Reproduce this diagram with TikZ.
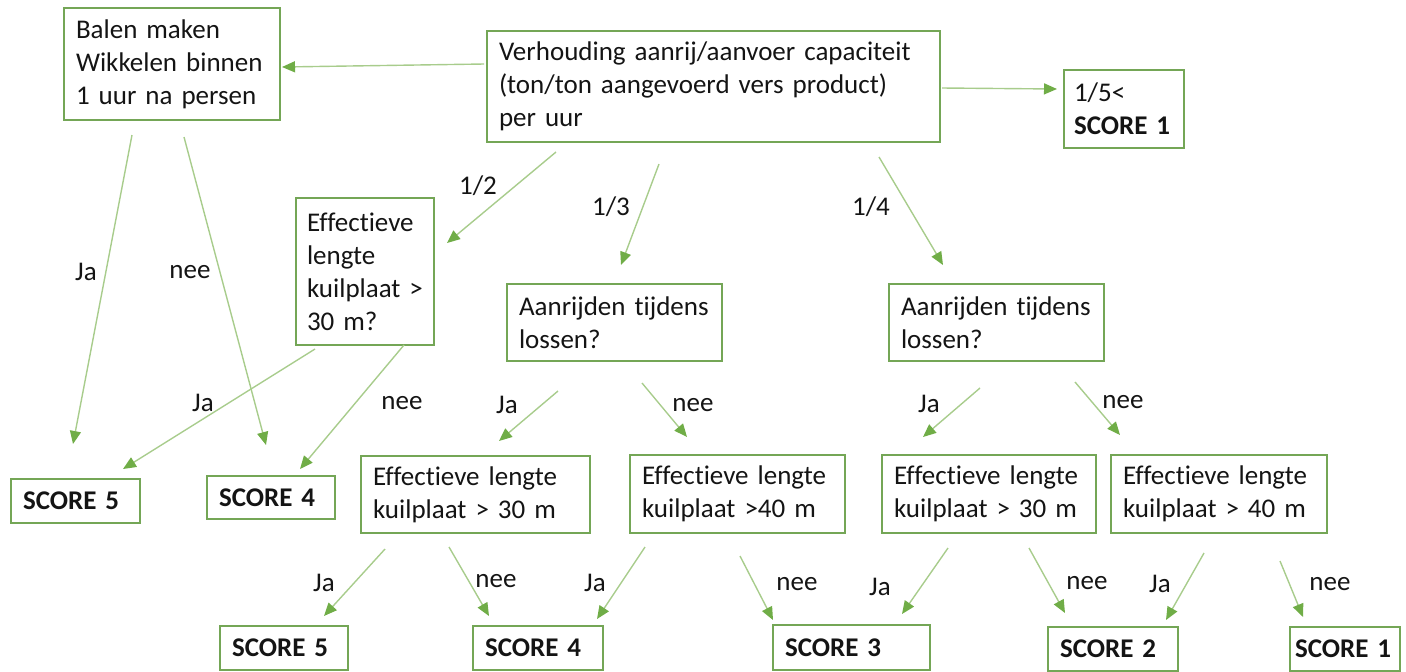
\documentclass[tikz,border=0pt]{standalone}
\usepackage{fontspec}
\setmainfont{Carlito}[Ligatures=NoCommon]
\usetikzlibrary{arrows.meta}
\definecolor{boxgreen}{RGB}{116,166,86}
\definecolor{linegreen}{RGB}{168,204,140}
\definecolor{tipgreen}{RGB}{112,173,71}
\definecolor{txt}{RGB}{20,20,20}
\newcommand{\diafont}{\fontsize{13.5}{16.5}\selectfont}
\tikzset{
  bx/.style 2 args={draw=boxgreen,line width=1pt,rectangle,align=left,
    inner xsep=6pt,inner ysep=0pt,text width=#1,minimum height=#2,anchor=center},
  sc/.style 2 args={bx={#1}{#2},font=\diafont\bfseries},
  arr/.style={draw=linegreen,line width=0.7pt,-{Triangle[length=6.5pt,width=5.5pt,color=tipgreen]}},
  lbl/.style={inner sep=0pt}
}
\begin{document}
\begin{tikzpicture}[x=0.5pt,y=-0.5pt,
  every node/.style={text=txt,font=\diafont}]
\useasboundingbox (0,0) rectangle (1406,671);

% boxes
\node[bx={96pt}{56pt}] (balen) at (172,64) {Balen maken\\Wikkelen binnen\\1 uur na persen};
\node[bx={214.5pt}{55.5pt}] (verh) at (713.5,86.5) {Verhouding aanrij/aanvoer capaciteit\\(ton/ton aangevoerd vers product)\\per uur};
\node[bx={50pt}{39pt},inner xsep=5pt] (s1top) at (1124,109) {1/5<\\\mbox{\textbf{SCORE 1}}};
\node[bx={58pt}{73.5pt},inner xsep=5.5pt] (eff1) at (365,271.5) {Effectieve\\lengte\\\mbox{kuilplaat >}\\30 m?};
\node[bx={95.5pt}{38.5pt}] (aan1) at (614.5,322.5) {Aanrijden tijdens\\lossen?};
\node[bx={95.5pt}{38.5pt}] (aan2) at (996.5,322.5) {Aanrijden tijdens\\lossen?};
\node[sc={52.5pt}{22pt}] (s5a) at (75.5,501) {SCORE 5};
\node[sc={52pt}{21.5pt}] (s4a) at (271,497.5) {SCORE 4};
\node[bx={102.5pt}{38.5pt}] (eff2) at (475.5,494.5) {Effectieve lengte\\kuilplaat > 30 m};
\node[bx={95.5pt}{39pt}] (eff3) at (737.5,494) {Effectieve lengte\\kuilplaat >40 m};
\node[bx={95pt}{39pt}] (eff4) at (989,494) {Effectieve lengte\\kuilplaat > 30 m};
\node[bx={96pt}{39pt}] (eff5) at (1219,494) {Effectieve lengte\\kuilplaat > 40 m};
\node[sc={52pt}{22pt}] (s5b) at (284,648) {SCORE 5};
\node[sc={53pt}{22pt}] (s4b) at (538,648) {SCORE 4};
\node[sc={66.5pt}{22.5pt}] (s3) at (851.5,647.5) {SCORE 3};
\node[sc={53pt}{22pt}] (s2) at (1113,649) {SCORE 2};
\node[sc={50pt}{22pt},inner xsep=2.5pt] (s1) at (1345,649) {\mbox{SCORE 1}};

% connector end points
\coordinate (a1s) at (484,64);   \coordinate (a1e) at (282,67);
\coordinate (a2s) at (942,88);   \coordinate (a2e) at (1057,89);
\coordinate (a3s) at (556,152);  \coordinate (a3e) at (447,243);
\coordinate (a4s) at (659,164);  \coordinate (a4e) at (621,265);
\coordinate (a5s) at (879,157);  \coordinate (a5e) at (943,265);
\coordinate (b1s) at (132,135);  \coordinate (b1e) at (73,444);
\coordinate (b2s) at (184,137);  \coordinate (b2e) at (266,445);
\coordinate (c1s) at (315,349);  \coordinate (c1e) at (123,469);
\coordinate (c2s) at (404,345);  \coordinate (c2e) at (300,469);
\coordinate (d1s) at (558,391);  \coordinate (d1e) at (499,441);
\coordinate (d2s) at (642,383);  \coordinate (d2e) at (687,437);
\coordinate (e1s) at (980,388);  \coordinate (e1e) at (923,437);
\coordinate (e2s) at (1075,382); \coordinate (e2e) at (1120,435);
\coordinate (f1s) at (385,549);  \coordinate (f1e) at (324,616);
\coordinate (f2s) at (449,547);  \coordinate (f2e) at (489,616);
\coordinate (g1s) at (645,547);  \coordinate (g1e) at (597,619);
\coordinate (g2s) at (740,556);  \coordinate (g2e) at (773,620);
\coordinate (h1s) at (948,548);  \coordinate (h1e) at (902,614);
\coordinate (h2s) at (1029,548); \coordinate (h2e) at (1065,613);
\coordinate (i1s) at (1204,553); \coordinate (i1e) at (1166,620);
\coordinate (i2s) at (1280,561); \coordinate (i2e) at (1303,617);

\foreach \p in {a1,a2,a3,a4,a5,b1,b2,c1,c2,d1,d2,e1,e2,f1,f2,g1,g2,h1,h2,i1,i2}
  \draw[arr] (\p s) -- (\p e);

% labels
\node[lbl] (l12) at (478,186) {1/2};
\node[lbl] (l13) at (611,207) {1/3};
\node[lbl] (l14) at (871,207) {1/4};
\node[lbl] (lb1) at (86,272) {Ja};
\node[lbl] (lb2) at (190,272) {nee};
\node[lbl] (lc1) at (203,403) {Ja};
\node[lbl] (lc2) at (402,403) {nee};
\node[lbl] (ld1) at (507,405) {Ja};
\node[lbl] (ld2) at (693,405) {nee};
\node[lbl] (le1) at (929,404) {Ja};
\node[lbl] (le2) at (1123,402) {nee};
\node[lbl] (lf1) at (324,583) {Ja};
\node[lbl] (lf2) at (496,581) {nee};
\node[lbl] (lg1) at (595,583) {Ja};
\node[lbl] (lg2) at (797,584) {nee};
\node[lbl] (lh1) at (880,587) {Ja};
\node[lbl] (lh2) at (1087,583) {nee};
\node[lbl] (li1) at (1160,584) {Ja};
\node[lbl] (li2) at (1330,584) {nee};
\end{tikzpicture}
\end{document}
